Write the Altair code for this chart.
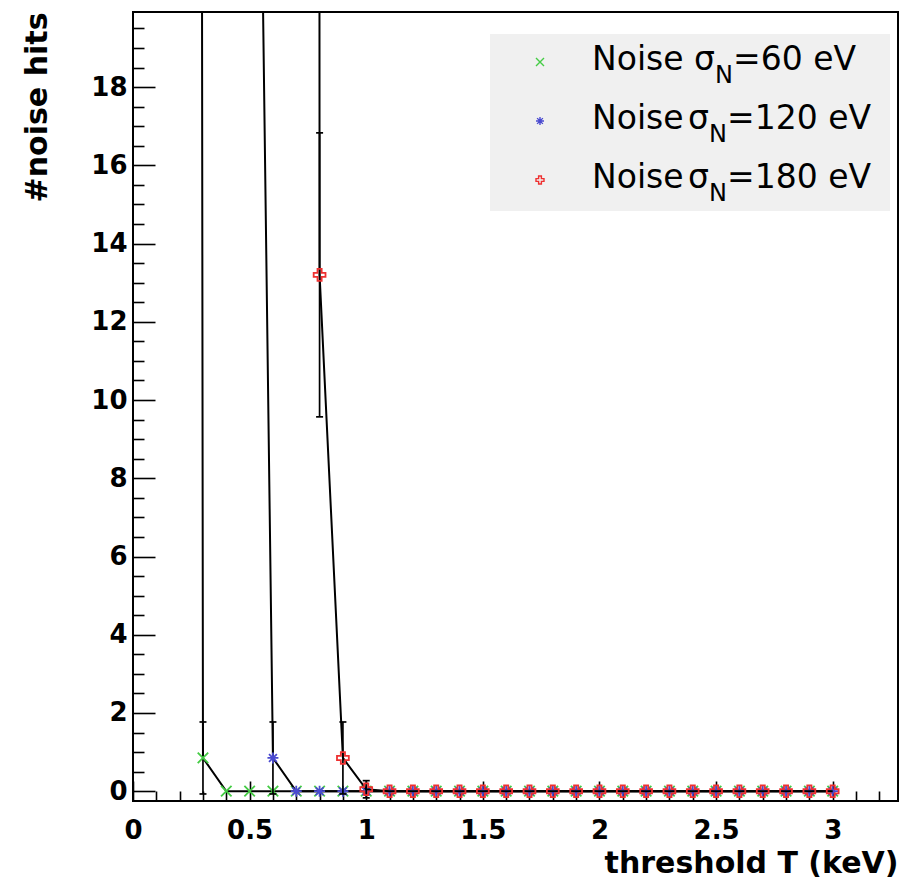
import altair as alt
import pandas as pd

# ---------------- data ----------------
T = [0.2, 0.3, 0.4, 0.5, 0.6, 0.7, 0.8, 0.9, 1.0, 1.1, 1.2, 1.3, 1.4, 1.5, 1.6,
     1.7, 1.8, 1.9, 2.0, 2.1, 2.2, 2.3, 2.4, 2.5, 2.6, 2.7, 2.8, 2.9, 3.0]

hits_60 = [480, 0.85, 0, 0, 0, 0, 0, 0, 0, 0, 0, 0, 0, 0, 0,
           0, 0, 0, 0, 0, 0, 0, 0, 0, 0, 0, 0, 0, 0]
err_60 = [21.9, 0.92, 0, 0, 0, 0, 0, 0, 0, 0, 0, 0, 0, 0, 0,
          0, 0, 0, 0, 0, 0, 0, 0, 0, 0, 0, 0, 0, 0]

hits_120 = [None, None, None, 46, 0.85, 0, 0, 0, 0, 0, 0, 0, 0, 0, 0,
            0, 0, 0, 0, 0, 0, 0, 0, 0, 0, 0, 0, 0, 0]
err_120 = [None, None, None, 6.8, 0.92, 0, 0, 0, 0, 0, 0, 0, 0, 0, 0,
           0, 0, 0, 0, 0, 0, 0, 0, 0, 0, 0, 0, 0, 0]

hits_180 = [None, None, None, None, None, 1500, 13.2, 0.85, 0.05, 0, 0, 0, 0, 0, 0,
            0, 0, 0, 0, 0, 0, 0, 0, 0, 0, 0, 0, 0, 0]
err_180 = [None, None, None, None, None, 38.7, 3.63, 0.92, 0.22, 0, 0, 0, 0, 0, 0,
           0, 0, 0, 0, 0, 0, 0, 0, 0, 0, 0, 0, 0, 0]

series_values = ["60", "120", "180"]
series_hits = [hits_60, hits_120, hits_180]
series_errs = [err_60, err_120, err_180]
series_colors = ["#44cc44", "#4a4ad0", "#ee3030"]

x_major_ticks = [0, 0.5, 1, 1.5, 2, 2.5, 3]
x_minor_ticks = [0.1, 0.2, 0.3, 0.4, 0.6, 0.7, 0.8, 0.9, 1.1, 1.2, 1.3, 1.4, 1.6, 1.7,
                 1.8, 1.9, 2.1, 2.2, 2.3, 2.4, 2.6, 2.7, 2.8, 2.9, 3.1, 3.2]
y_major_ticks = [0, 2, 4, 6, 8, 10, 12, 14, 16, 18]
y_minor_ticks = [0.5, 1, 1.5, 2.5, 3, 3.5, 4.5, 5, 5.5, 6.5, 7, 7.5, 8.5, 9, 9.5,
                 10.5, 11, 11.5, 12.5, 13, 13.5, 14.5, 15, 15.5, 16.5, 17, 17.5,
                 18.5, 19, 19.5]

# ---------------- styling ----------------
FONT = "DejaVu Sans"
W, H = 765, 789
X_DOMAIN = [0, 3.28]
Y_DOMAIN = [-0.25, 19.92]

SHAPE_X = "M-1,-1L1,1M-1,1L1,-1"
SHAPE_STAR = "M-1,0L1,0M0,-1L0,1M-0.72,-0.72L0.72,0.72M-0.72,0.72L0.72,-0.72"
SHAPE_OPEN_CROSS = ("M-0.35,-1L0.35,-1L0.35,-0.35L1,-0.35L1,0.35L0.35,0.35L0.35,1"
                    "L-0.35,1L-0.35,0.35L-1,0.35L-1,-0.35L-0.35,-0.35Z")
series_shapes = [SHAPE_X, SHAPE_STAR, SHAPE_OPEN_CROSS]
series_sizes = [110, 120, 140]

xs = alt.Scale(domain=X_DOMAIN, nice=False, zero=False)
ys = alt.Scale(domain=Y_DOMAIN, nice=False, zero=False)

x_major_axis = alt.Axis(
    orient="bottom", values=x_major_ticks, format="~g", offset=-20, tickSize=20,
    tickWidth=1.6, tickColor="black", domain=False, grid=False,
    labelFont=FONT, labelFontSize=26, labelFontWeight="bold", labelColor="black",
    labelPadding=16, labelFlush=False, labelOverlap=False,
    title="threshold T (keV)", titleFont=FONT, titleFontSize=30,
    titleFontWeight="bold", titleColor="black", titleAnchor="end", titlePadding=5)
x_minor_axis = alt.Axis(
    orient="bottom", values=x_minor_ticks, offset=-10, tickSize=10, tickWidth=1.6,
    tickColor="black", domain=False, grid=False, labels=False, title=None)
y_major_axis = alt.Axis(
    orient="left", values=y_major_ticks, format="~g", offset=-22, tickSize=22,
    tickWidth=1.6, tickColor="black", domain=False, grid=False,
    labelFont=FONT, labelFontSize=26, labelFontWeight="bold", labelColor="black",
    labelPadding=6, labelFlush=False, labelOverlap=False,
    title="#noise hits", titleFont=FONT, titleFontSize=30, titleFontWeight="bold",
    titleColor="black", titleAnchor="end", titlePadding=38)
y_minor_axis = alt.Axis(
    orient="left", values=y_minor_ticks, offset=-11, tickSize=11, tickWidth=1.6,
    tickColor="black", domain=False, grid=False, labels=False, title=None)

layers = []
for i, (sv, hits, errs) in enumerate(zip(series_values, series_hits, series_errs)):
    rows = []
    for t, v, e in zip(T, hits, errs):
        if v is None:
            continue
        rows.append({"T": t, "hits": v, "err": e, "lo": v - e, "hi": v + e})
    df = pd.DataFrame(rows)
    base = alt.Chart(df)
    first = i == 0
    line = base.mark_line(color="black", strokeWidth=2, clip=True).encode(
        x=alt.X("T:Q", scale=xs, axis=x_major_axis if first else None),
        y=alt.Y("hits:Q", scale=ys, axis=y_major_axis if first else None),
    )
    ebase = base.transform_filter("datum.err > 0")
    rule = ebase.mark_rule(color="black", strokeWidth=1.7, clip=True).encode(
        x=alt.X("T:Q", scale=xs, axis=x_minor_axis if first else None),
        y=alt.Y("lo:Q", scale=ys, axis=y_minor_axis if first else None),
        y2="hi:Q",
    )
    cap_hi = ebase.mark_point(shape="M-1,0L1,0", size=49, color="black",
                              strokeWidth=1.7, clip=True, opacity=1).encode(
        x=alt.X("T:Q", scale=xs, axis=None),
        y=alt.Y("hi:Q", scale=ys, axis=None),
    )
    cap_lo = ebase.mark_point(shape="M-1,0L1,0", size=49, color="black",
                              strokeWidth=1.7, clip=True, opacity=1).encode(
        x=alt.X("T:Q", scale=xs, axis=None),
        y=alt.Y("lo:Q", scale=ys, axis=None),
    )
    pts = base.mark_point(shape=series_shapes[i], size=series_sizes[i],
                          color=series_colors[i], filled=False, strokeWidth=1.8,
                          opacity=1, clip=True).encode(
        x=alt.X("T:Q", scale=xs, axis=None),
        y=alt.Y("hits:Q", scale=ys, axis=None),
    )
    layers += [line, rule, cap_hi, cap_lo, pts]

# ---------------- legend (drawn by hand for the subscript) ----------------
leg_df = pd.DataFrame({"k": [0]})
leg_base = alt.Chart(leg_df)
layers.append(leg_base.mark_rect(color="#f0f0f0").encode(
    x=alt.value(357), x2=alt.value(757), y=alt.value(22), y2=alt.value(199)))

row_base = [58, 117, 176]
sigma_x = [561, 555, 555]
for i, sv in enumerate(series_values):
    yb = row_base[i]
    layers.append(leg_base.mark_point(shape=series_shapes[i], size=64,
                                      color=series_colors[i], filled=False,
                                      strokeWidth=1.4, opacity=1).encode(
        x=alt.value(407), y=alt.value(yb - 8)))
    layers.append(leg_base.mark_text(text="Noise", font=FONT, fontSize=33,
                                     align="left", baseline="alphabetic",
                                     color="black").encode(
        x=alt.value(459), y=alt.value(yb)))
    layers.append(leg_base.mark_text(text="σ", font=FONT, fontSize=33,
                                     align="left", baseline="alphabetic",
                                     color="black").encode(
        x=alt.value(sigma_x[i]), y=alt.value(yb)))
    layers.append(leg_base.mark_text(text="N", font=FONT, fontSize=24,
                                     align="left", baseline="alphabetic",
                                     color="black").encode(
        x=alt.value(sigma_x[i] + 21), y=alt.value(yb + 13)))
    layers.append(leg_base.mark_text(text="=" + sv + " eV", font=FONT, fontSize=33,
                                     align="left", baseline="alphabetic",
                                     color="black").encode(
        x=alt.value(sigma_x[i] + 39), y=alt.value(yb)))

chart = alt.layer(*layers).resolve_axis(x="independent", y="independent").properties(
    width=W, height=H,
    autosize=alt.AutoSizeParams(type="none"),
    padding={"left": 133, "top": 12, "right": 5, "bottom": 82},
    background="white",
).configure_view(stroke="black", strokeWidth=2)

chart.save("out.html", embed_options={"renderer": "svg", "actions": False})
